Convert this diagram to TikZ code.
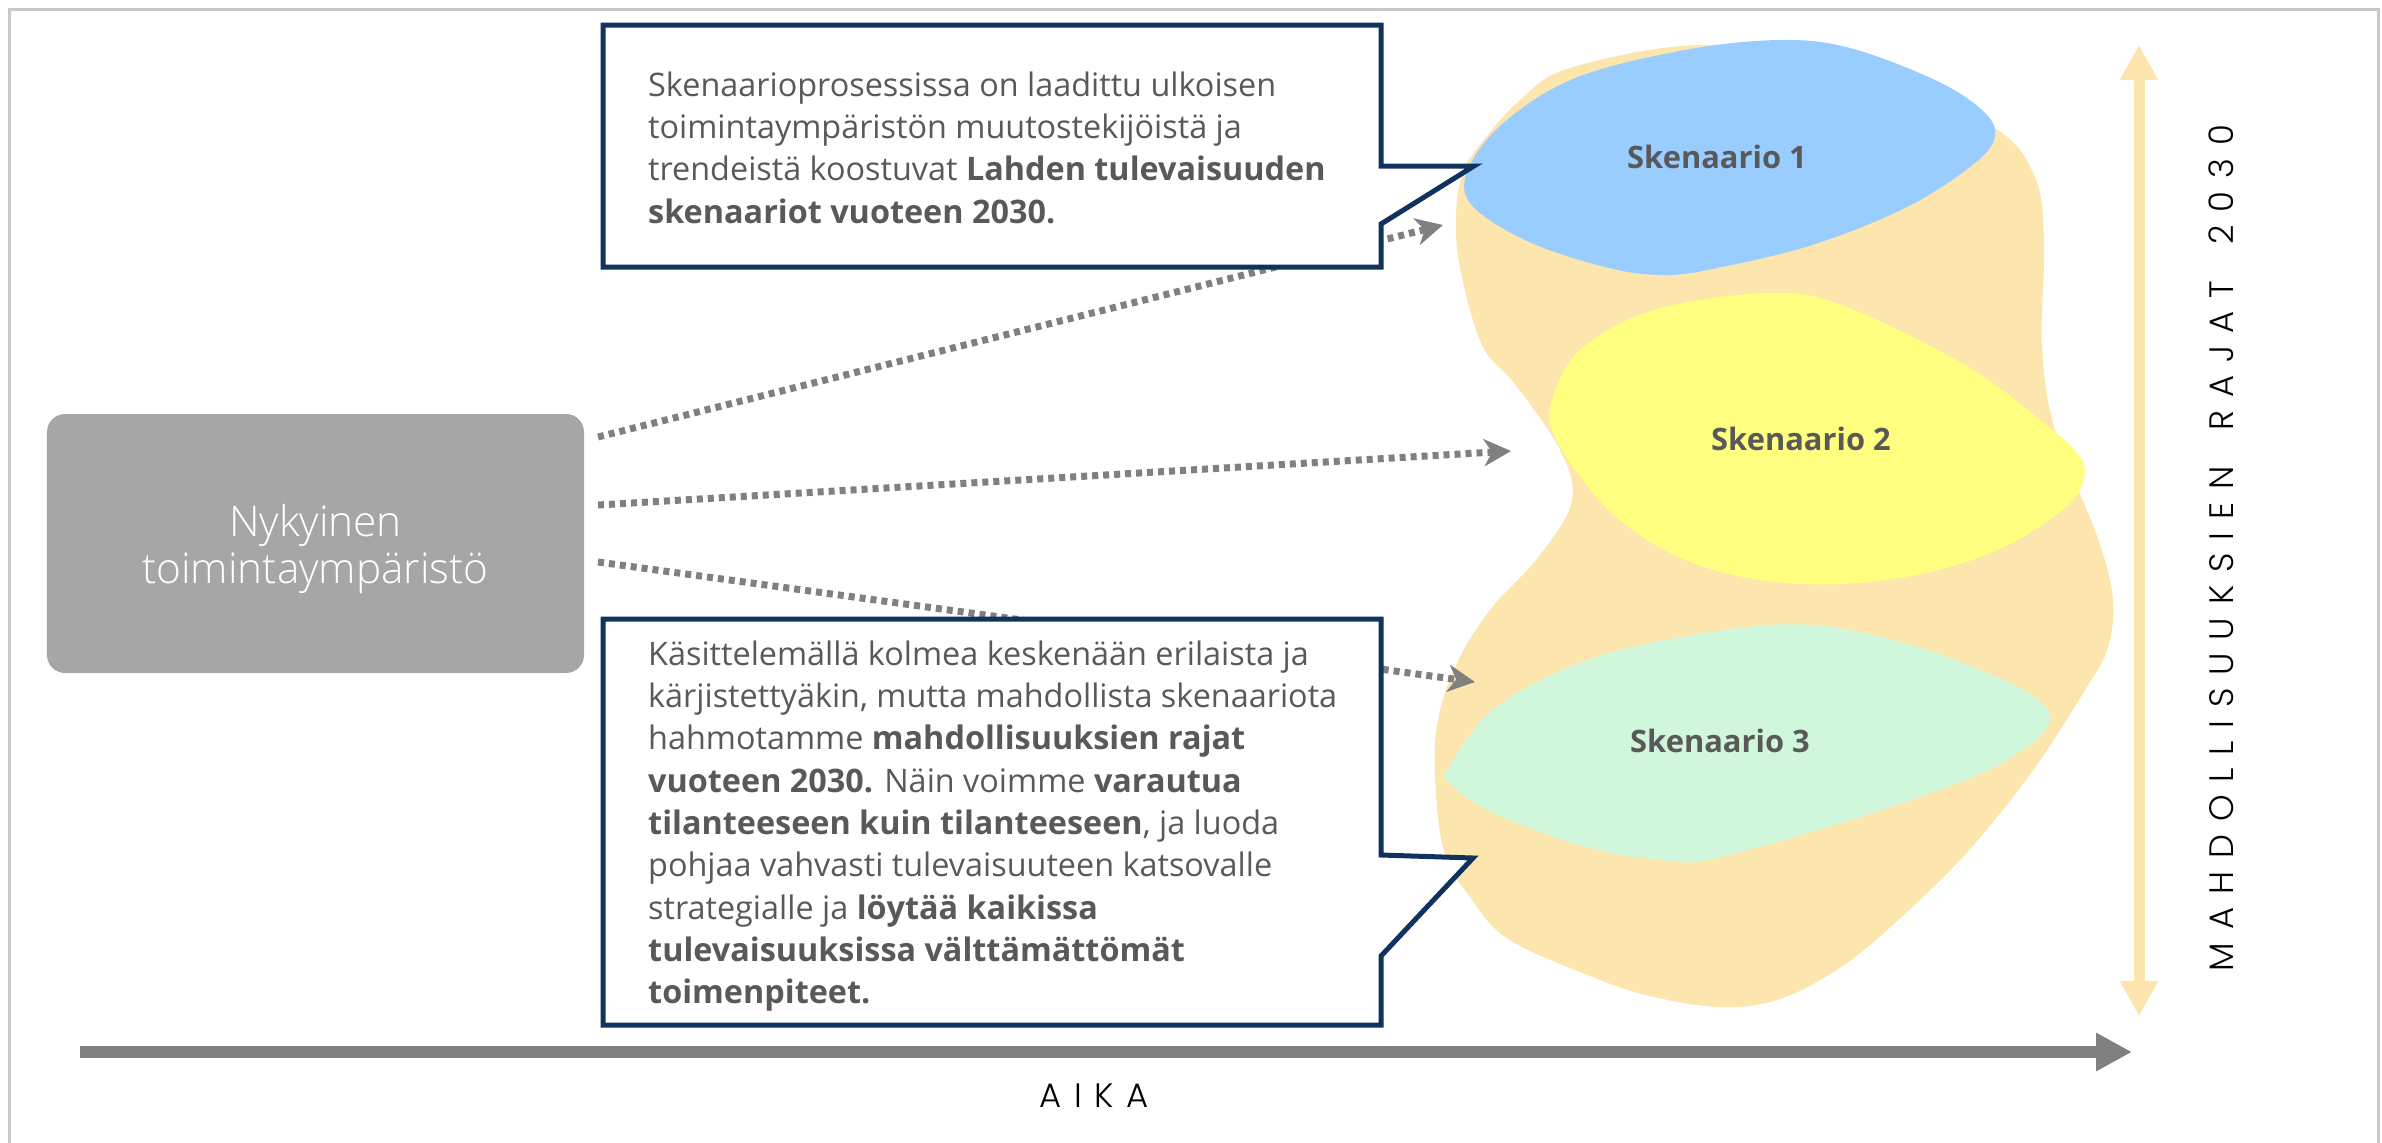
\documentclass[tikz,border=0pt]{standalone}
\usepackage{fontspec}
\setmainfont{Open Sans}
\newfontfamily\geofont{Poppins Light}
\newfontfamily\lightfont{Open Sans Light}
\usetikzlibrary{arrows.meta}
\definecolor{beige}{HTML}{FDE5AE}
\definecolor{sblue}{HTML}{99CCFF}
\definecolor{syellow}{HTML}{FFFF80}
\definecolor{sgreen}{HTML}{D0F7DC}
\definecolor{navy}{HTML}{10325E}
\definecolor{txtgray}{HTML}{595959}
\definecolor{arrgray}{HTML}{808080}
\definecolor{boxgray}{HTML}{A6A6A6}
\definecolor{framegray}{HTML}{C8C8C8}
\begin{document}
\begin{tikzpicture}[x=1bp,y=-1bp,
  dotarrow/.style={draw=arrgray, line width=7bp, dash pattern=on 6bp off 5bp,
    -{Stealth[length=27bp,width=27bp,inset=8bp]}},
  callout/.style={draw=navy, fill=white, line width=5bp, line join=miter},
  bodytext/.style={anchor=north west, inner sep=0pt, align=left, text=txtgray,
    font=\fontsize{32.5}{42.5}\selectfont},
  scen/.style={text=txtgray, inner sep=0pt, font=\fontsize{31}{36}\selectfont\bfseries},
  spaced/.style={text=black, inner sep=0pt,
    font=\geofont\fontsize{34}{40}\selectfont\addfontfeature{LetterSpace=38}}
]
\useasboundingbox (0,0) rectangle (2382,1142);
% frame
\draw[framegray, line width=3bp] (9,1150) -- (9,9) -- (2378,9) -- (2378,1150);

% big beige area
\fill[beige] plot[smooth cycle, tension=0.6] coordinates {
 (1520,100) (1570,68) (1700,45) (1850,60) (1990,125) (2034,175) (2044,240)
 (2042,345) (2055,430) (2097,536) (2113,600) (2107,650) (2085,690) (2034,769)
 (1971,848) (1907,912) (1844,965) (1780,999) (1720,1007) (1650,996) (1590,976)
 (1508,939) (1470,897) (1444,852) (1435,776) (1438,720) (1457,663) (1490,610)
 (1540,555) (1572,500) (1559,448) (1514,383) (1482,345) (1460,268) (1456,215)
 (1463,172) (1482,142)};

% vertical double arrow
\coordinate (vtop) at (2139,45);
\coordinate (vbot) at (2139,1016);
\draw[beige, line width=11bp,
  {Triangle[length=35bp,width=36bp]}-{Triangle[length=35bp,width=36bp]}] (vbot) -- (vtop);

% scenario blobs
\fill[sblue] plot[smooth cycle, tension=0.6] coordinates {
 (1470,165) (1508,119) (1578,77) (1685,50) (1780,40) (1850,48) (1935,80)
 (1982,110) (1995,135) (1975,163) (1907,207) (1812,245) (1717,268) (1666,275)
 (1609,268) (1527,241) (1470,203)};
\fill[syellow] plot[smooth cycle, tension=0.6] coordinates {
 (1552,400) (1580,350) (1654,310) (1768,293) (1844,306) (1965,365) (2040,420)
 (2080,457) (2082,485) (2060,512) (2002,548) (1930,572) (1844,584) (1760,580)
 (1685,560) (1622,522) (1578,474) (1552,430)};
\fill[sgreen] plot[smooth cycle, tension=0.6] coordinates {
 (1448,769) (1495,708) (1590,659) (1717,631) (1812,625) (1907,644) (1995,676)
 (2042,703) (2048,725) (2025,748) (1971,778) (1844,822) (1717,858) (1673,861)
 (1590,848) (1495,814) (1451,784)};

\node[scen] (s1) at (1717,157) {Skenaario 1};
\node[scen] (s2) at (1801,439) {Skenaario 2};
\node[scen] (s3) at (1720,741) {Skenaario 3};

% current environment box
\node[fill=boxgray, rounded corners=18bp, minimum width=537bp, minimum height=259bp,
  inner sep=0pt] (nyk) at (315.5,543.5) {};
\node[text=white, align=center, inner sep=0pt, font=\lightfont\fontsize{42.5}{48}\selectfont]
  (nyktxt) at (315.5,549) {Nykyinen\\toimintaympäristö};

% dotted arrows
\coordinate (a1s) at (598,437);
\coordinate (a1e) at (1443,225);
\coordinate (a2s) at (598,505);
\coordinate (a2e) at (1511,451);
\coordinate (a3s) at (598,562);
\coordinate (a3e) at (1475,682);
\draw[dotarrow] (a1s) -- (a1e);
\draw[dotarrow] (a2s) -- (a2e);
\draw[dotarrow] (a3s) -- (a3e);

% callouts
\draw[callout] (603,25) -- (1381,25) -- (1381,166) -- (1474,166) -- (1381,224)
  -- (1381,267) -- (603,267) -- cycle;
\node[bodytext] (t1) at (648,66.25) {\strut Skenaarioprosessissa on laadittu ulkoisen\\
toimintaympäristön muutostekijöistä ja\\
trendeistä koostuvat \textbf{Lahden tulevaisuuden}\\
\textbf{skenaariot vuoteen 2030.}};

\draw[callout] (603,619) -- (1381,619) -- (1381,855) -- (1473,858) -- (1381,956)
  -- (1381,1025) -- (603,1025) -- cycle;
\node[bodytext] (t2) at (648,635.25) {\strut Käsittelemällä kolmea keskenään erilaista ja\\
kärjistettyäkin, mutta mahdollista skenaariota\\
hahmotamme \textbf{mahdollisuuksien rajat}\\
\textbf{vuoteen 2030.} Näin voimme \textbf{varautua}\\
\textbf{tilanteeseen kuin tilanteeseen}, ja luoda\\
pohjaa vahvasti tulevaisuuteen katsovalle\\
strategialle ja \textbf{löytää kaikissa}\\
\textbf{tulevaisuuksissa välttämättömät}\\
\textbf{toimenpiteet.}};

% time axis
\coordinate (tx1) at (80,1052);
\coordinate (tx2) at (2132,1052);
\draw[arrgray, line width=12bp, -{Triangle[length=36bp,width=36bp]}] (tx1) -- (tx2);
\node[spaced] (aika) at (1094,1096) {AIKA};

% vertical label
\node[spaced, rotate=90] (vt) at (2221,548)
  {MAHDOLLISUUKSIEN\hspace{36bp}RAJAT\hspace{36bp}2030};
\end{tikzpicture}
\end{document}
